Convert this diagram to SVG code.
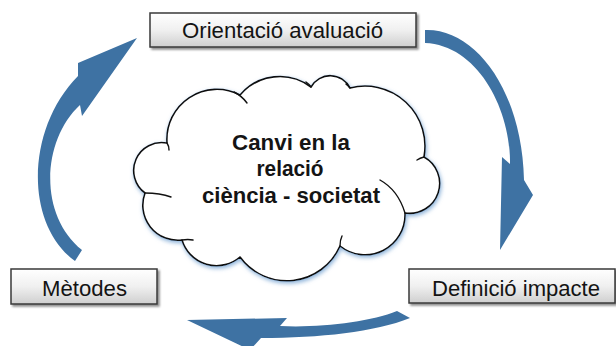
<svg xmlns="http://www.w3.org/2000/svg" width="616" height="346" viewBox="0 0 616 346">
<defs>
<linearGradient id="boxg" x1="0" y1="0" x2="0" y2="1">
<stop offset="0" stop-color="#ffffff"/>
<stop offset="0.5" stop-color="#f0f0f0"/>
<stop offset="1" stop-color="#cfcfcf"/>
</linearGradient>
<filter id="bshadow" x="-10%" y="-30%" width="120%" height="170%">
<feGaussianBlur in="SourceAlpha" stdDeviation="1.2"/>
<feOffset dx="1.5" dy="2" result="b"/>
<feFlood flood-color="#000" flood-opacity="0.45"/>
<feComposite in2="b" operator="in" result="s"/>
<feMerge><feMergeNode in="s"/><feMergeNode in="SourceGraphic"/></feMerge>
</filter>
<filter id="glow" x="-10%" y="-10%" width="120%" height="125%">
<feGaussianBlur in="SourceAlpha" stdDeviation="2"/>
<feOffset dx="1" dy="2" result="b"/>
<feFlood flood-color="#6f9fd0" flood-opacity="0.8"/>
<feComposite in2="b" operator="in" result="s"/>
<feMerge><feMergeNode in="s"/><feMergeNode in="SourceGraphic"/></feMerge>
</filter>
</defs>
<style>
.box{fill:url(#boxg);stroke:#3a3a3a;stroke-width:1.5;}
.lbl{font-family:"Liberation Sans",Arial,sans-serif;font-size:21.5px;fill:#141414;text-anchor:middle;}
.ctr{font-family:"Liberation Sans",Arial,sans-serif;font-size:21.5px;font-weight:bold;fill:#141414;text-anchor:middle;}
.arrow{fill:#3e72a3;}
.cloud{fill:#ffffff;stroke:#111;stroke-width:1.6;stroke-linejoin:round;}
.inner{fill:none;stroke:#111;stroke-width:1.4;stroke-linecap:round;}
</style>
<rect width="616" height="346" fill="#ffffff"/>
<g id="connectors">
<path class="arrow" d="M425,30 C475,28 522,90 524,180 L533,195 L500,250 L502,157 L510,164 C511,110 478,45 425,43 Z"/>
<path class="arrow" d="M397,311 C370,322 320,328 280,326 L287,318 L187,320 L250,350 L261,338 C320,338 375,332 410,318 Z"/>
<path class="arrow" d="M75,261 C25,225 25,130 78,76 L78,63 L137,38 L82,116 L80,105 C42,140 38,215 82,250 Z"/>
</g>
<g id="cloud">
<path class="cloud" filter="url(#glow)" d="M167,143 A50,50 0 0 1 240,95 A52,52 0 0 1 311,87 A22,22 0 0 1 350,88 A60,60 0 0 1 424,157 A30,30 0 0 1 405,213 A40,40 0 0 1 340,246 A58,58 0 0 1 240,257 A36,36 0 0 1 182,240 A35,35 0 0 1 145,193 A28,28 0 0 1 167,143 Z"/>
<path class="inner" d="M167,143 Q169,146 169,150"/>
<path class="inner" d="M234,92 Q242,96 247,103"/>
<path class="inner" d="M311,87 Q309,84 306,82"/>
<path class="inner" d="M350,88 Q348,85 346,84"/>
<path class="inner" d="M424,157 Q420,158 417,160"/>
<path class="inner" d="M380,180 Q398,190 405,213"/>
<path class="inner" d="M340,246 Q340,240 342,236"/>
<path class="inner" d="M182,240 Q188,239 193,240"/>
<path class="inner" d="M145,193 Q160,193 171,197"/>
<text class="ctr" x="291" y="149.5" textLength="118" lengthAdjust="spacingAndGlyphs">Canvi en la</text>
<text class="ctr" x="290" y="176" textLength="67" lengthAdjust="spacingAndGlyphs">relació</text>
<text class="ctr" x="291" y="202.5" textLength="178" lengthAdjust="spacingAndGlyphs">ciència - societat</text>
</g>
<g id="orientacio">
<rect class="box" filter="url(#bshadow)" x="150" y="13" width="266" height="34"/>
<text class="lbl" x="282.5" y="37.5" textLength="201" lengthAdjust="spacingAndGlyphs">Orientació avaluació</text>
</g>
<g id="metodes">
<rect class="box" filter="url(#bshadow)" x="11" y="269" width="146" height="35"/>
<text class="lbl" x="84.5" y="295.5" textLength="85" lengthAdjust="spacingAndGlyphs">Mètodes</text>
</g>
<g id="definicio">
<rect class="box" filter="url(#bshadow)" x="409" y="269" width="206" height="34"/>
<text class="lbl" x="516" y="295.5" textLength="168" lengthAdjust="spacingAndGlyphs">Definició impacte</text>
</g>
</svg>
